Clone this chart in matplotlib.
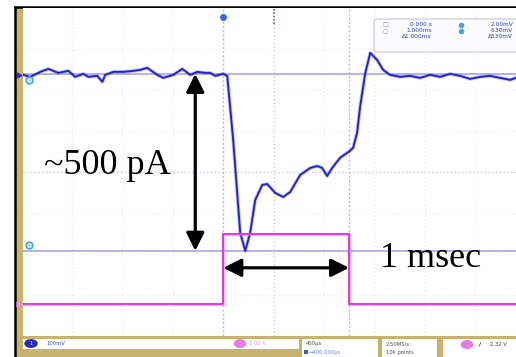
import matplotlib.pyplot as plt
from matplotlib.patches import Rectangle, FancyBboxPatch, Ellipse
from matplotlib.transforms import blended_transform_factory, offset_copy

# channel 1: membrane current trace, time in us, level in mV
ch1_t = [-1590, -1532, -1452, -1389, -1310, -1230, -1175, -1111, -1071, -1000,
         -960, -937, -873, -794, -714, -659, -603, -524, -476, -397,
         -325, -262, -206, -143, -103, -63, 0, 32, 79, 135,
         175, 214, 254, 310, 349, 413, 476, 532, 611, 690,
         746, 786, 825, 865, 929, 1008, 1032, 1063, 1087, 1127,
         1167, 1222, 1270, 1325, 1405, 1484, 1563, 1643, 1722, 1802,
         1881, 1960, 2040, 2119, 2198, 2278, 2325]
ch1_mv = [-1, -7, 8, 17, 5, 11, -7, 2, -7, -4,
          -22, -1, 8, 8, 11, 14, 20, -1, -10, -1,
          17, -1, 8, 5, 5, -4, 2, -4, -196, -476,
          -530, -476, -377, -332, -329, -356, -368, -353, -302, -281,
          -275, -281, -305, -281, -250, -229, -220, -175, -97, 2,
          65, 44, 14, -1, -7, -4, -10, -1, -7, 2,
          -4, -13, -7, -4, -10, -16, -10]

# channel 2: gate pulse (V)
pulse_on, pulse_off = 0, 1000      # us
pulse_low, pulse_high = 0.0, 3.4   # V

# cursor settings
cursor_t = [0, 1000]       # us
cursor_mv = [2, -530]      # mV
time_per_div = 400         # us

readout_a = ["0.000 s", "1.000ms", "\u03941.000ms"]
readout_b = ["2.00mV", "-530mV", "\u0394530mV"]

W, H = 516, 357
tan = '#c8b26e'
blue = '#2424c4'
magenta = '#e02ee0'
lilac = '#aaa4e8'

fig = plt.figure(figsize=(W / 100, H / 100), dpi=100)
fig.patch.set_facecolor('white')

# instrument chrome behind the screen (pixel coordinates)
back = fig.add_axes([0, 0, 1, 1], zorder=0)
back.set_xlim(0, W)
back.set_ylim(H, 0)
back.axis('off')
back.add_patch(Rectangle((16, 8), 7, H - 8, color=tan, lw=0))
back.add_patch(Rectangle((16, 336), W - 16, 21, color=tan, lw=0))
back.plot([15, 15], [6, H], color='black', lw=1.8, solid_capstyle='butt')
back.plot([14, W], [7, 7], color='black', lw=1.8, solid_capstyle='butt')

# status bar boxes
back.add_patch(Rectangle((23, 338.5), 276, 10, color='white', lw=0))
for x0, x1 in [(302, 378), (382, 437), (443, W + 2)]:
    back.add_patch(Rectangle((x0, 339), x1 - x0, 19, color='white', lw=0))
back.add_patch(Ellipse((31, 343.5), 12, 7.5, color='#2a2ab8'))
back.text(31, 343.8, '1', color='white', fontsize=3.5, ha='center', va='center')
back.text(46, 343.6, '100mV', color='#3a56d8', fontsize=3.8, va='center')
back.add_patch(Ellipse((240, 343.5), 11, 7.5, color='#e67ae6'))
back.text(249, 343.6, '2.00 V', color='#d69ad6', fontsize=3.8, va='center')
back.text(306, 343.5, '400\u00b5s', color='#505050', fontsize=3.8, va='center')
back.add_patch(Rectangle((304, 350), 4, 4, color='#3a56d8', lw=0))
back.text(309, 352.2, '\u2192400.000\u00b5s', color='#6a86e8', fontsize=3.8, va='center')
back.text(386, 343.5, '2.50MS/s', color='#505050', fontsize=3.8, va='center')
back.text(386, 352.2, '10k points', color='#505050', fontsize=3.8, va='center')
back.add_patch(Ellipse((467, 344.5), 11, 7.5, color='#e67ae6'))
back.text(480, 344.5, '/', color='black', fontsize=4.5, va='center', ha='center')
back.text(490, 344.5, '2.32 V', color='#404040', fontsize=3.8, va='center')

# scope screen: x in us, grid in divisions
ax = fig.add_axes([23 / W, (H - 336) / H, (W - 23) / W, (336 - 8) / H], zorder=1)
ax.set_xlim(-1590, 2325)
ax.set_ylim(-4, 4)
ax.set_facecolor('white')
for s in ax.spines.values():
    s.set_visible(False)
ax.set_xticks([])
ax.set_yticks([])
for k in range(-3, 6):
    t = k * time_per_div
    if t in cursor_t:
        continue
    col = '#c6c4dc' if t == time_per_div else '#e8e8f2'
    ax.axvline(t, color=col, lw=0.9, ls=(0, (1, 2)), zorder=1)
for d in range(-3, 4):
    col = '#c6c4dc' if d == 0 else '#ececf4'
    ax.axhline(d, color=col, lw=0.9, ls=(0, (1, 2)), zorder=1)
for t in cursor_t:
    ax.axvline(t, color='#c4b2f2', lw=1.0, ls=(0, (1.5, 1.5)), zorder=2)

# channel 1 axis (mV)
ax1 = ax.twinx()
ax1.set_ylim(-786, 200)
ax1.axis('off')
for v in cursor_mv:
    ax1.axhline(v, color=lilac, lw=1.2, zorder=2)
ax1.plot(ch1_t, ch1_mv, color='#7474e2', lw=2.6, alpha=0.45, zorder=3,
         solid_joinstyle='round')
ax1.plot(ch1_t, ch1_mv, color=blue, lw=1.35, zorder=4, solid_joinstyle='round')

# channel 2 axis (V)
ax2 = ax.twinx()
ax2.set_ylim(-1.56, 14.44)
ax2.axis('off')
pulse_t = [ax.get_xlim()[0], pulse_on, pulse_on, pulse_off, pulse_off, ax.get_xlim()[1]]
pulse_v = [pulse_low, pulse_low, pulse_high, pulse_high, pulse_low, pulse_low]
ax2.plot(pulse_t, pulse_v, color='#f08cf0', lw=2.4, alpha=0.55, zorder=3)
ax2.plot(pulse_t, pulse_v, color=magenta, lw=1.3, zorder=4)

# cursor and ground markers
edge1 = blended_transform_factory(ax1.transAxes, ax1.transData)
edge2 = blended_transform_factory(ax2.transAxes, ax2.transData)
ax1.plot([-0.009], [0], marker='>', ms=3.5, color='#2a2ab8', transform=edge1,
         clip_on=False, zorder=6)
ax2.plot([-0.008], [pulse_low], marker='>', ms=3.5, color='#f090f0', transform=edge2,
         clip_on=False, zorder=6)
for v, dy in zip(cursor_mv, [-6, 6]):
    tr = offset_copy(edge1, fig=fig, y=dy * 0.72, units='points')
    ax1.plot([0.012], [v], marker='o', ms=5, mfc='#bfe2fa', mec='#3aa0e8',
             mew=1.0, transform=tr, zorder=6)
ax1.plot([cursor_t[1]], [cursor_mv[1]], marker='D', ms=3, mfc='#d8d0f8',
         mec='#b0a4ee', mew=0.6, zorder=6)
top = ax.get_xaxis_transform()
ax.plot([cursor_t[0]], [0.973], marker='o', ms=4, color='#3a6ae0',
        transform=top, zorder=6)
ax.plot([time_per_div, time_per_div], [0.95, 1.0], color='#5a6ab8', lw=1.2,
        ls=(0, (1, 1)), transform=top, zorder=6)

# annotations
arrow = dict(arrowstyle='<|-|>,head_length=0.6,head_width=0.3', color='black',
             lw=2.3, mutation_scale=18, shrinkA=0, shrinkB=0)
ax1.annotate('', xy=(-222, cursor_mv[0]), xytext=(-222, cursor_mv[1]),
             arrowprops=arrow, zorder=7)
ax1.annotate('', xy=(cursor_t[0], -581), xytext=(cursor_t[1], -581),
             arrowprops=arrow, zorder=7)
ax1.text(-921, -299, '~500 pA', family='Liberation Serif', fontsize=26,
         ha='center', va='baseline', zorder=8)
ax1.text(1246, -578, '1 msec', family='Liberation Serif', fontsize=26,
         ha='left', va='baseline', zorder=8)

# cursor readout panel on top of the screen
front = fig.add_axes([0, 0, 1, 1], zorder=5)
front.set_xlim(0, W)
front.set_ylim(H, 0)
front.axis('off')
front.add_patch(FancyBboxPatch((374, 19), 150, 33,
                               boxstyle='round,pad=0,rounding_size=3',
                               fc='#fbfbfe', ec='#c4c4d4', lw=0.8))
for i, (a, b) in enumerate(zip(readout_a, readout_b)):
    y = 25 + i * 5.6
    front.text(432, y, a, color='#3040c8', fontsize=4.2, ha='right', va='center')
    front.text(513, y, b, color='#3040c8', fontsize=4.2, ha='right', va='center')
front.text(385, 25, '\u25a1', color='#9090a0', fontsize=4.5, ha='center', va='center')
front.text(385, 30.6, '\u25cb', color='#9090a0', fontsize=4.5, ha='center', va='center')
front.plot([461, 461], [25, 30.6], ls='none', marker='o', ms=3, color='#40a8e8')

fig.savefig('out.png', dpi=100)
